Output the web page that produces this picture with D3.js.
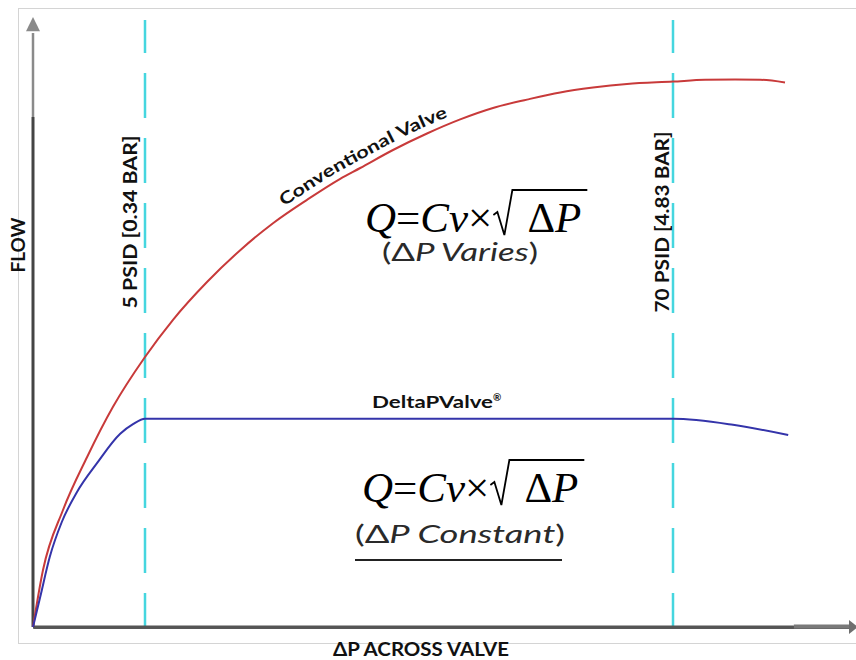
<!DOCTYPE html>
<html><head><meta charset="utf-8">
<script src="https://cdn.jsdelivr.net/npm/d3@7"></script>
<style>
html,body{margin:0;padding:0;background:#fff;}
svg{display:block;}
</style></head>
<body>
<svg id="c" width="856" height="660"></svg>
<script>
// ---- data (schematic ΔP units on x, flow units on y) ----
const convX = [0, 1.25, 3.75, 6.75, 10, 14, 17.5, 21.75, 25.9, 30, 34.25, 38.4, 40.9, 45, 49.25, 53.4, 57.5, 61.75, 65.9, 70, 74.25, 80, 84, 87.75, 90.9, 94];
const convY = [0, 9.5, 19.5, 28.3, 36.7, 45, 51.2, 57.5, 62.8, 67.3, 71.2, 74.7, 76.5, 79.5, 82.25, 84.6, 86.5, 87.9, 89.1, 89.9, 90.5, 90.9, 91.2, 91.25, 91.2, 90.75];
const dpvX = [0, 0.9, 2.1, 3.6, 5.5, 8, 10.9, 12.5, 14, 80, 87.5, 94.4];
const dpvY = [0, 5, 11.7, 17.5, 22.5, 27.3, 32.2, 33.8, 34.7, 34.7, 33.7, 32];
const markerPos = [14, 80];
const markerLabels = ["5 PSID [0.34 BAR]", "70 PSID [4.83 BAR]"];
const seriesNames = ["Conventional Valve", "DeltaPValve"];
const xTitle = "ΔP ACROSS VALVE";
const yTitle = "FLOW";
const subLabels = ["ΔP Varies", "ΔP Constant"];

const svg = d3.select("#c");
const x = d3.scaleLinear().domain([0, 102.5]).range([33, 853]);
const y = d3.scaleLinear().domain([0, 100]).range([627, 27]);

// frame
svg.append("rect").attr("x", 18.5).attr("y", 8.5).attr("width", 850).attr("height", 635)
  .attr("fill", "none").attr("stroke", "#d4d4d4").attr("stroke-width", 1);

// marker dashed lines
svg.selectAll("line.mk").data(markerPos).join("line").attr("class", "mk")
  .attr("x1", d => x(d)).attr("x2", d => x(d))
  .attr("y1", y(101.17)).attr("y2", y(0))
  .attr("stroke", "#45d6df").attr("stroke-width", 2.5)
  .attr("stroke-dasharray", "45,20").attr("stroke-dashoffset", 12);

// marker labels
svg.selectAll("text.mkl").data(markerPos).join("text").attr("class", "mkl")
  .attr("transform", (d, i) => `translate(${x(d) - (i ? 4 : 8)},222) rotate(-90)`)
  .attr("text-anchor", "middle")
  .attr("font-family", "Lato, 'Open Sans', sans-serif").attr("font-weight", 700)
  .attr("font-size", 19).attr("fill", "#111")
  .attr("textLength", (d, i) => i ? 181 : 173).attr("lengthAdjust", "spacingAndGlyphs")
  .text((d, i) => markerLabels[i]);

// axes
const xAxis = d3.axisBottom(x).tickValues([]).tickSizeOuter(0);
const gx = svg.append("g").attr("transform", `translate(0,${y(0)})`).call(xAxis);
gx.select(".domain").attr("stroke", "#5a5a5a").attr("stroke-width", 3);
svg.append("line").attr("x1", x(95.1)).attr("x2", x(102.2)).attr("y1", y(0) - 0.5).attr("y2", y(0) - 0.5)
  .attr("stroke", "#7a7a7a").attr("stroke-width", 4);
svg.append("path")
  .attr("d", `M${x(102)},${y(0) - 7}L${x(102) + 9},${y(0)}L${x(102)},${y(0) + 7}Z`).attr("fill", "#6f6f6f");
svg.append("rect").attr("x", x(0)).attr("y", y(0) - 1.5).attr("width", x(95.1) - x(0)).attr("height", 3).attr("fill", "#555");

const yAxis = d3.axisLeft(y).tickValues([]).tickSizeOuter(0);
const gy = svg.append("g").attr("transform", `translate(${x(0)},0)`).call(yAxis);
gy.select(".domain").remove();
svg.append("line").attr("x1", x(0)).attr("x2", x(0)).attr("y1", y(0)).attr("y2", y(85))
  .attr("stroke", "#444").attr("stroke-width", 3);
svg.append("line").attr("x1", x(0)).attr("x2", x(0)).attr("y1", y(85)).attr("y2", y(99))
  .attr("stroke", "#8a8a8a").attr("stroke-width", 2.5);
svg.append("path")
  .attr("d", `M${x(0)},${y(101.67)}L${x(0) + 7},${y(99.3)}L${x(0) - 7},${y(99.3)}Z`).attr("fill", "#8a8a8a");

// axis titles
svg.append("text").attr("transform", "translate(25,245) rotate(-90)").attr("text-anchor", "middle")
  .attr("font-family", "Lato, 'Open Sans', sans-serif").attr("font-weight", 700).attr("font-size", 18)
  .attr("fill", "#111").attr("textLength", 55).attr("lengthAdjust", "spacingAndGlyphs").text(yTitle);
svg.append("text").attr("x", 421).attr("y", 656).attr("text-anchor", "middle")
  .attr("font-family", "Lato, 'Open Sans', sans-serif").attr("font-weight", 700).attr("font-size", 19)
  .attr("fill", "#111").attr("textLength", 176).attr("lengthAdjust", "spacingAndGlyphs").text(xTitle);

// curves
const conv = convX.map((d, i) => [d, convY[i]]);
const dpv = dpvX.map((d, i) => [d, dpvY[i]]);
const line = d3.line().x(d => x(d[0])).y(d => y(d[1])).curve(d3.curveMonotoneX);
const convPath = svg.append("path").attr("id", "convPath").attr("d", line(conv))
  .attr("fill", "none").attr("stroke", "#c83a3a").attr("stroke-width", 2);
svg.append("path").attr("d", line(dpv))
  .attr("fill", "none").attr("stroke", "#3434aa").attr("stroke-width", 2);

// label along conventional curve
(function () {
  const p = convPath.node(), L = p.getTotalLength();
  let lo = 0, hi = L;
  for (let k = 0; k < 40; k++) { const m = (lo + hi) / 2; if (p.getPointAtLength(m).x < 288) lo = m; else hi = m; }
  svg.append("text").attr("dy", -7)
    .attr("font-family", "Lato, 'Open Sans', sans-serif").attr("font-weight", 700).attr("font-size", 17).attr("fill", "#111")
    .append("textPath").attr("href", "#convPath").attr("startOffset", lo)
    .attr("textLength", 186).attr("lengthAdjust", "spacingAndGlyphs")
    .text(seriesNames[0]);
})();

// DeltaPValve label
const dl = svg.append("text").attr("x", 372).attr("y", 408)
  .attr("font-family", "Lato, 'Open Sans', sans-serif").attr("font-weight", 700).attr("font-size", 17).attr("fill", "#111");
dl.append("tspan").attr("textLength", 121).attr("lengthAdjust", "spacingAndGlyphs").text(seriesNames[1]);
dl.append("tspan").attr("dy", -7).attr("font-size", 10).text("®");

// formulas
function formula(x0, yb, sub, subX, subY, subLen) {
  const fs = 43;
  const g = svg.append("g");
  const t1 = g.append("text").attr("x", x0).attr("y", yb)
    .attr("font-family", "'Liberation Serif', 'Times New Roman', serif").attr("font-size", fs).attr("fill", "#000");
  t1.append("tspan").attr("font-style", "italic").text("Q");
  t1.append("tspan").text("=");
  t1.append("tspan").attr("font-style", "italic").text("Cv");
  t1.append("tspan").text("×");
  const w1 = t1.node().getComputedTextLength();
  const rx = x0 + w1 + 1;
  const t2 = g.append("text").attr("x", rx + 34).attr("y", yb)
    .attr("font-family", "'Liberation Serif', 'Times New Roman', serif").attr("font-size", fs).attr("fill", "#000");
  t2.append("tspan").text("Δ");
  t2.append("tspan").attr("font-style", "italic").text("P");
  const w2 = t2.node().getComputedTextLength();
  g.append("path")
    .attr("d", `M${rx},${yb - 17}L${rx + 4},${yb - 20}L${rx + 11},${yb + 3}L${rx + 19},${yb - 42}H${rx + 34 + w2 + 6}`)
    .attr("fill", "none").attr("stroke", "#000").attr("stroke-width", 1.8).attr("stroke-linejoin", "miter");
  const s = g.append("text").attr("x", subX).attr("y", subY)
    .attr("font-family", "Lato, 'Noto Sans', sans-serif").attr("font-weight", 400).attr("font-size", 25).attr("fill", "#2a2a2a")
    .attr("textLength", subLen).attr("lengthAdjust", "spacingAndGlyphs");
  s.append("tspan").text("(Δ");
  s.append("tspan").attr("font-style", "italic").text(sub.slice(1));
  s.append("tspan").text(")");
}
formula(365, 232, subLabels[0], 382, 261, 156);
formula(362, 502, subLabels[1], 355, 543, 210);

// underline under second formula
svg.append("line").attr("x1", 355).attr("x2", 562).attr("y1", 560).attr("y2", 560)
  .attr("stroke", "#222").attr("stroke-width", 2);
</script>
</body></html>
